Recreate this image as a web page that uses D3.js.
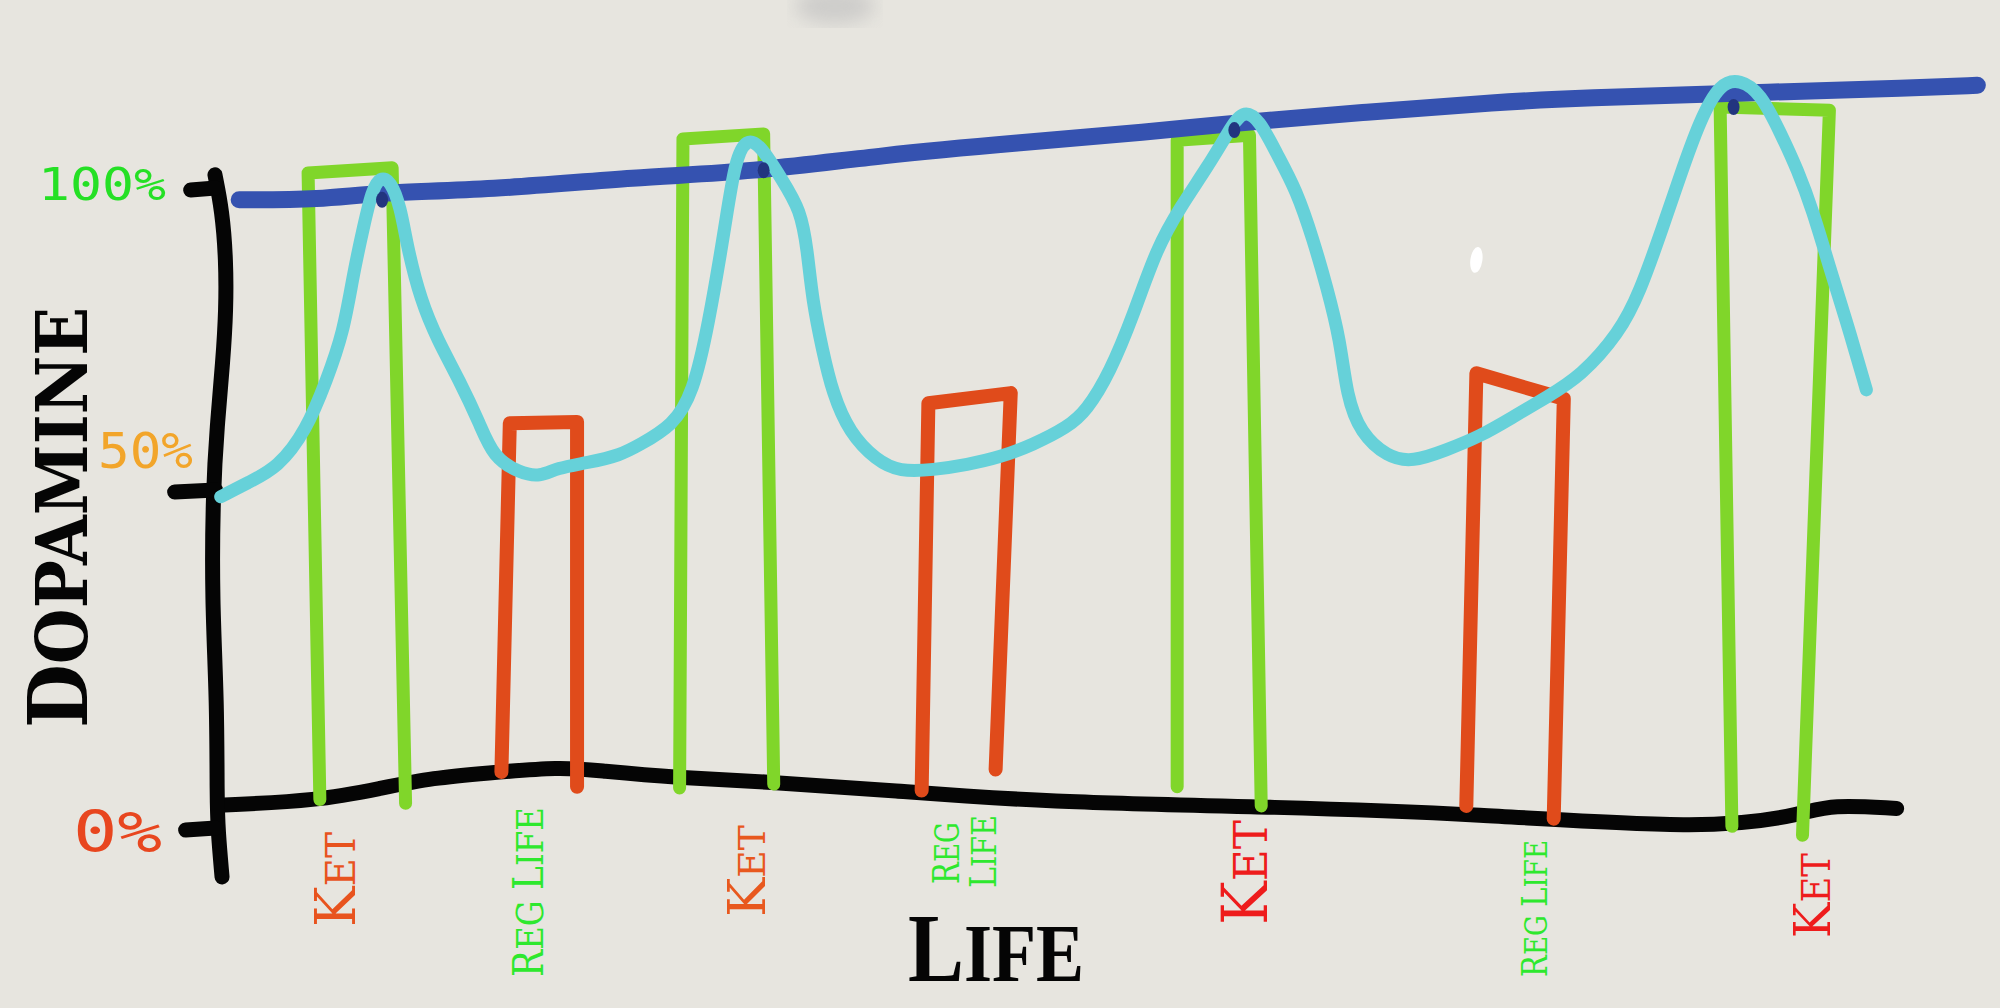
<!DOCTYPE html>
<html>
<head>
<meta charset="utf-8">
<script src="https://cdn.jsdelivr.net/npm/d3@7"></script>
<style>
  html, body { margin: 0; padding: 0; background: #e7e5df; overflow: hidden; }
  svg { display: block; }
</style>
</head>
<body>
<svg id="chart" width="2000" height="1008"></svg>
<script>
// what happens along "life" (x in life units 0-100, y in % dopamine)
var categories = ['Ket', 'Reg Life', 'Ket', 'Reg Life', 'Ket', 'Reg Life', 'Ket'];
var kinds = ['ket', 'reg', 'ket', 'reg', 'ket', 'reg', 'ket'];

// each bar is drawn as two legs + a lid: [top, bottom] of every leg
var barLeftX = [[5.3, 6.0], [17.3, 16.8], [27.6, 27.4], [42.2, 41.8], [57.0, 57.0], [74.8, 74.2], [89.3, 90.0]];
var barRightX = [[10.3, 11.1], [21.3, 21.3], [32.4, 33.0], [47.1, 46.2], [61.3, 62.0], [80.0, 79.4], [95.8, 94.2]];
var barTop = [[102.2, 103.0], [63.1, 63.3], [107.5, 108.3], [66.2, 67.8], [107.3, 108.1], [70.9, 66.9], [112.5, 112.0]];
var barStart = [[4.3, 3.7], [8.6, 6.3], [6.1, 6.7], [5.7, 9.0], [6.3, 3.3], [3.3, 1.3], [0.1, -1.3]];

// the light blue "how it feels" curve [life, dopamine]
var feelCurve = [
    [0.1, 51.6], [1.7, 53.8], [3.5, 56.1], [5.2, 62.0], [6.4, 69.8], [7.4, 77.2], [8.0, 86.6],
    [8.6, 93.8], [9.1, 99.5], [9.6, 101.6], [10.2, 101.0], [10.8, 96.9], [11.2, 90.6], [12.0, 82.3],
    [13.0, 76.1], [14.3, 69.8], [15.5, 63.1], [16.3, 57.8], [17.9, 55.3], [19.1, 54.7], [20.1, 56.1],
    [21.9, 56.9], [23.9, 58.1], [25.0, 59.7], [27.0, 62.7], [28.2, 67.8], [29.1, 78.2], [30.1, 93.7],
    [30.7, 104.3], [31.4, 107.6], [32.2, 106.6], [33.5, 101.1], [34.6, 96.4], [35.0, 90.2], [35.3, 82.3],
    [35.9, 74.5], [36.5, 67.8], [37.5, 61.6], [39.1, 57.3], [40.5, 55.5], [42.5, 55.8], [44.5, 56.6],
    [46.5, 57.8], [48.4, 59.7], [50.5, 62.5], [51.6, 65.0], [53.0, 71.0], [54.4, 80.0], [55.8, 90.6],
    [57.2, 96.9], [58.8, 103.1], [60.0, 108.4], [60.9, 112.2], [61.9, 110.5], [62.9, 105.3], [64.1, 99.5],
    [65.1, 91.7], [65.9, 84.4], [66.7, 76.1], [67.1, 67.2], [67.9, 61.6], [69.5, 57.8], [71.0, 57.0],
    [73.0, 58.9], [75.0, 61.0], [77.0, 64.1], [79.0, 67.2], [81.0, 70.4], [83.3, 77.2], [84.5, 83.4],
    [85.9, 93.8], [86.9, 101.6], [88.1, 110.5], [89.3, 116.3], [90.5, 116.8], [91.7, 114.7], [92.9, 108.4],
    [93.9, 102.7], [94.8, 96.4], [95.8, 87.5], [96.8, 79.2], [98.0, 68.3]
];

// the dark blue rising "new normal" line
var highLine = [
    [1.2, 98.0], [6.0, 98.0], [9.6, 99.2], [15.9, 99.5], [25.0, 101.6], [31.6, 102.3], [39.5, 105.0],
    [47.5, 106.9], [55.4, 108.6], [60.3, 110.0], [68.3, 111.7], [76.2, 113.3], [81.0, 113.9],
    [90.5, 114.7], [101.2, 115.5], [104.6, 115.9]
];
var highDots = [[9.7, 98.0], [32.4, 102.6], [60.4, 108.9], [90.1, 112.5]];

// hand drawn axes
var lifeAxis = [
    [0, 3.4], [5.9, 4.1], [9.7, 6.1], [12.8, 7.7], [15.8, 8.4], [20.4, 9.4], [22.6, 8.8], [27.2, 7.7],
    [32.5, 7.1], [40.1, 5.7], [48.8, 3.9], [63.4, 3.1], [74.4, 2.1], [89.0, -0.5], [94.3, 2.1],
    [95.9, 3.5], [99.8, 2.9]
];
var dopamineAxis = [
    [-0.24, 101.9], [0.18, 96.4], [0.42, 88.6], [0.42, 80.8], [0.24, 73.0], [-0.12, 62.5], [-0.36, 52.2],
    [-0.42, 35.5], [-0.12, 19.8], [-0.12, 4.2], [-0.06, -0.5], [0.18, -7.8]
];
var tickValues = [0, 50, 100];
var tickLabels = ['0%', '50%', '100%'];

// ---- layout / styles ----
var width = 2000, height = 1008;
var colors = { ket: '#80d62a', reg: '#e04b1b', feel: '#66d1d9', high: '#3552b0', dot: '#22357f', axis: '#050505' };
var tickStyle = [
    { len: 30, nudge: 1, end: 162, base: 25, size: 57, tl: 89, color: '#e8461f' },
    { len: 41, nudge: -17, end: 193, base: -39, size: 49, tl: 95, color: '#f2a52a' },
    { len: 25, nudge: 1, end: 166, base: 13, size: 45, tl: 128, color: '#25e025' }
];
var labelStyle = [
    { cx: [335], top: [832], len: [95], size: 56, color: '#e8531e', ratio: 0.72 },
    { cx: [528], top: [807], len: [170], size: 42, color: '#2ee82e', ratio: 0.9 },
    { cx: [746], top: [825], len: [92], size: 53, color: '#e8581e', ratio: 0.72 },
    { cx: [945, 982], top: [822, 815], len: [62, 73], size: 38, color: '#2ee82e', ratio: 0.9 },
    { cx: [1244], top: [820], len: [105], size: 63, color: '#ee1c1c', ratio: 0.75 },
    { cx: [1534], top: [840], len: [137], size: 36, color: '#2ee82e', ratio: 0.9 },
    { cx: [1811], top: [853], len: [85], size: 51, color: '#ee1c1c', ratio: 0.75 }
];

var svg = d3.select('#chart');

var x = d3.scaleLinear().domain([0, 100]).range([219, 1900]);
var y = d3.scaleLinear().domain([0, 100]).range([827, 187]);

svg.append('rect').attr('width', width).attr('height', height).attr('fill', '#e7e5df');

// little smudge on the paper
var defs = svg.append('defs');
defs.append('filter').attr('id', 'blur').append('feGaussianBlur').attr('stdDeviation', 9);
svg.append('ellipse')
    .attr('cx', 835).attr('cy', 6).attr('rx', 40).attr('ry', 18)
    .attr('fill', '#bdbdbd').attr('opacity', 0.6).attr('filter', 'url(#blur)');

// hand strokes: a b-spline through the read points irons out the jitter
var smooth = d3.line()
    .x(function (d) { return x(d[0]); })
    .y(function (d) { return y(d[1]); })
    .curve(d3.curveBasis);

var straight = d3.line()
    .x(function (d) { return x(d[0]); })
    .y(function (d) { return y(d[1]); });

function stroke(sel, color, w) {
    return sel.attr('fill', 'none').attr('stroke', color).attr('stroke-width', w)
        .attr('stroke-linecap', 'round').attr('stroke-linejoin', 'round');
}

// axes
stroke(svg.append('path').attr('d', smooth(lifeAxis)), colors.axis, 15);
stroke(svg.append('path').attr('d', smooth(dopamineAxis)), colors.axis, 15);

tickValues.forEach(function (v, i) {
    var s = tickStyle[i];
    var ty = y(v) + s.nudge;
    stroke(svg.append('line')
        .attr('x1', x(-0.2)).attr('x2', x(-0.2) - s.len)
        .attr('y1', ty).attr('y2', ty + 2), colors.axis, 15);
    svg.append('text')
        .attr('x', s.end).attr('y', y(v) + s.base)
        .attr('text-anchor', 'end')
        .attr('font-family', 'DejaVu Sans Mono, monospace')
        .attr('font-size', s.size)
        .attr('fill', s.color)
        .attr('textLength', s.tl).attr('lengthAdjust', 'spacingAndGlyphs')
        .text(tickLabels[i]);
});

// bars (open boxes, no bottom)
var bars = svg.append('g').attr('class', 'bars');
categories.forEach(function (c, i) {
    var pts = [
        [barLeftX[i][1], barStart[i][0]],
        [barLeftX[i][0], barTop[i][0]],
        [barRightX[i][0], barTop[i][1]],
        [barRightX[i][1], barStart[i][1]]
    ];
    stroke(bars.append('path').attr('d', straight(pts)), colors[kinds[i]], kinds[i] === 'ket' ? 13 : 14);
});

// high line, feel curve, dots
stroke(svg.append('path').attr('d', smooth(highLine)), colors.high, 17);
stroke(svg.append('path').attr('d', smooth(feelCurve)), colors.feel, 13);
svg.selectAll('.dot').data(highDots).enter().append('ellipse')
    .attr('class', 'dot')
    .attr('cx', function (d) { return x(d[0]); })
    .attr('cy', function (d) { return y(d[1]); })
    .attr('rx', 6).attr('ry', 8)
    .attr('fill', colors.dot);

// stray white fleck
var fleck = [74.8, 88.6];
svg.append('ellipse').attr('cx', x(fleck[0])).attr('cy', y(fleck[1])).attr('rx', 6).attr('ry', 13)
    .attr('fill', '#ffffff').attr('transform', 'rotate(8,' + x(fleck[0]) + ',' + y(fleck[1]) + ')');

// small-caps text: first letter of each word big, rest smaller capitals
function capsText(str, size, ratio, color, family, weight, anchor) {
    var t = svg.append('text')
        .attr('text-anchor', anchor)
        .attr('font-family', family)
        .attr('font-weight', weight)
        .attr('fill', color);
    str.split(' ').forEach(function (w, k) {
        if (k > 0) t.append('tspan').attr('font-size', size * ratio).text(' ');
        t.append('tspan').attr('font-size', size).text(w[0].toUpperCase());
        t.append('tspan').attr('font-size', size * ratio).text(w.slice(1).toUpperCase());
    });
    return t;
}

// squeeze factor so the text spans the drawn length
function squeeze(t, len) {
    var natural = t.node().getComputedTextLength();
    return natural > 0 ? len / natural : 1;
}

// vertical label, reads bottom to top
function vText(str, cx, top, len, size, ratio, color, family, weight) {
    var cap = size * 0.729;
    var t = capsText(str, size, ratio, color, family, weight, 'end');
    t.attr('transform', 'translate(' + (cx + cap / 2) + ',' + top + ') rotate(-90) scale(' + squeeze(t, len) + ',1)');
    return t;
}

categories.forEach(function (c, i) {
    var s = labelStyle[i];
    var lines = s.cx.length > 1 ? c.split(' ') : [c];
    lines.forEach(function (line, j) {
        vText(line, s.cx[j], s.top[j], s.len[j], s.size, s.ratio, s.color, 'DejaVu Serif, serif', 400);
    });
});

// axis titles
vText('Dopamine', 57, 307, 421, 82, 0.87, '#050505', 'DejaVu Serif, serif', 700);

var lifeTitle = capsText('Life', 97, 0.86, '#050505', 'Liberation Serif, serif', 700, 'start');
lifeTitle.attr('transform', 'translate(908,981) scale(' + squeeze(lifeTitle, 176) + ',1)');
</script>
</body>
</html>
